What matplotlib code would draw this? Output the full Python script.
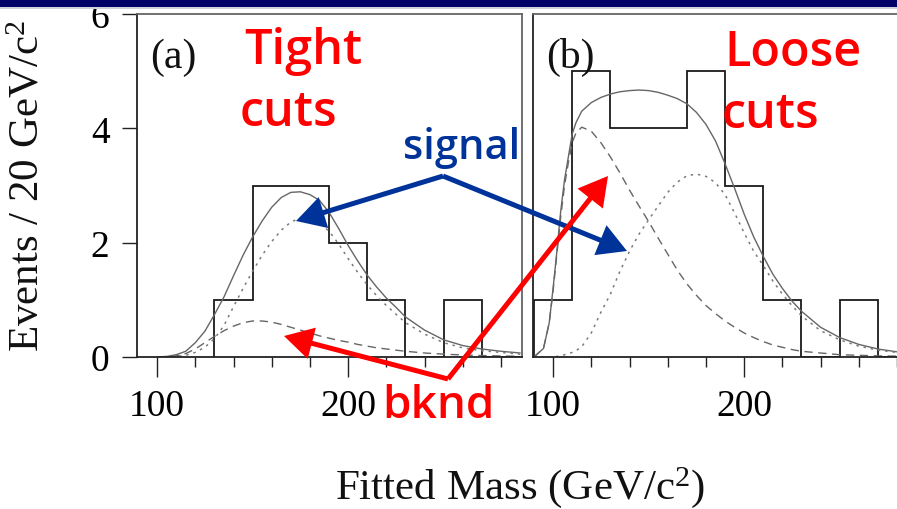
import matplotlib
matplotlib.use("Agg")
import matplotlib.pyplot as plt
from matplotlib.patches import Rectangle, FancyArrowPatch
from matplotlib.ticker import MultipleLocator, FixedLocator

plt.rcParams['mathtext.fontset'] = 'custom'
plt.rcParams['mathtext.rm'] = 'Liberation Serif'
plt.rcParams['mathtext.it'] = 'Liberation Serif:italic'

# ---------------- data ----------------
edges_a = [130, 150, 170, 190, 210, 230, 250, 270, 290]
counts_a = [1, 3, 3, 2, 1, 0, 1, 0]

edges_b = [90, 110, 130, 150, 170, 190, 210, 230, 250, 270, 290]
counts_b = [1, 5, 4, 4, 5, 3, 1, 0, 1, 0]

mass_a = [100, 105, 110, 115, 120, 125, 130, 135, 140, 145, 150, 155, 160, 165,
          170, 175, 180, 185, 190, 195, 200, 205, 210, 215, 220, 225, 230, 240,
          250, 260, 270, 280, 290]
total_a = [0.0, 0.01, 0.04, 0.1, 0.25, 0.45, 0.74, 1.05, 1.42, 1.78, 2.1, 2.38,
           2.62, 2.79, 2.88, 2.89, 2.84, 2.74, 2.53, 2.25, 1.95, 1.68, 1.43, 1.22,
           1.03, 0.87, 0.7, 0.47, 0.3, 0.2, 0.14, 0.1, 0.07]
bkg_a = [0.0, 0.005, 0.02, 0.06, 0.14, 0.25, 0.36, 0.46, 0.54, 0.6, 0.63, 0.63,
         0.61, 0.57, 0.52, 0.47, 0.42, 0.37, 0.33, 0.29, 0.26, 0.22, 0.19, 0.16,
         0.14, 0.12, 0.1, 0.07, 0.05, 0.035, 0.025, 0.018, 0.012]
sig_a = [0.0, 0.0, 0.01, 0.03, 0.08, 0.17, 0.32, 0.55, 0.88, 1.2, 1.5, 1.78,
         2.02, 2.22, 2.36, 2.43, 2.42, 2.35, 2.2, 1.98, 1.72, 1.48, 1.26, 1.07,
         0.9, 0.75, 0.6, 0.4, 0.25, 0.16, 0.11, 0.08, 0.05]

mass_b = [90, 95, 98, 100, 102, 104, 106, 108, 110, 112, 115, 120, 125, 130, 135,
          140, 145, 150, 155, 160, 165, 170, 175, 180, 185, 190, 195, 200, 205,
          210, 215, 220, 225, 230, 240, 250, 260, 270, 280, 290]
total_b = [0.0, 0.15, 0.6, 1.2, 1.85, 2.55, 3.1, 3.5, 3.9, 4.1, 4.3, 4.45, 4.54,
           4.6, 4.64, 4.66, 4.67, 4.66, 4.63, 4.58, 4.52, 4.43, 4.28, 4.07, 3.78,
           3.38, 2.95, 2.5, 2.1, 1.76, 1.45, 1.2, 0.98, 0.8, 0.52, 0.34, 0.22,
           0.14, 0.09, 0.06]
bkg_b = [0.0, 0.15, 0.6, 1.15, 1.8, 2.45, 3.0, 3.4, 3.75, 3.92, 4.02, 3.95, 3.75,
         3.5, 3.22, 2.92, 2.64, 2.37, 2.08, 1.8, 1.52, 1.28, 1.08, 0.9, 0.76,
         0.63, 0.52, 0.42, 0.34, 0.27, 0.21, 0.17, 0.13, 0.1, 0.07, 0.04, 0.03,
         0.02, 0.015, 0.01]
sig_b = [0.0, 0.0, 0.0, 0.0, 0.01, 0.02, 0.04, 0.06, 0.08, 0.11, 0.18, 0.42, 0.78,
         1.1, 1.5, 1.85, 2.15, 2.4, 2.64, 2.88, 3.06, 3.17, 3.2, 3.16, 3.05, 2.84,
         2.52, 2.17, 1.85, 1.6, 1.33, 1.1, 0.9, 0.72, 0.46, 0.3, 0.19, 0.12,
         0.08, 0.05]

y_ticks = [0, 2, 4, 6]
x_major = [100, 200]

# ---------------- figure ----------------
W, H = 897, 510
fig = plt.figure(figsize=(W / 100, H / 100), dpi=100)
fig.patch.set_facecolor('white')

def fx(px):
    return px / W

def fy(py):
    return 1 - py / H

xlo, xhi = 89.5, 291.0
scale = 1.911  # px per GeV
ax_w = (xhi - xlo) * scale

ax_a = fig.add_axes([fx(137), fy(358), ax_w / W, (358 - 15) / H])
ax_b = fig.add_axes([fx(533), fy(358), ax_w / W, (358 - 15) / H])

serif = 'Liberation Serif'
hist_col = '#1a1a1a'
curve_col = '#666666'

for ax, edges, counts, m, tot, bk, sg in [
        (ax_a, edges_a, counts_a, mass_a, total_a, bkg_a, sig_a),
        (ax_b, edges_b, counts_b, mass_b, total_b, bkg_b, sig_b)]:
    ax.stairs(counts, edges, baseline=0, color=hist_col, lw=1.3)
    ax.plot(m, tot, color=curve_col, lw=1.0, solid_capstyle='round')
    ax.plot(m, bk, color=curve_col, lw=1.0, dashes=(6, 4))
    ax.plot(m, sg, color='#7a7a7a', lw=1.1, dashes=(1.6, 3.2))
    ax.set_xlim(xlo, xhi)
    ax.set_ylim(0, 6)
    ax.xaxis.set_major_locator(FixedLocator(x_major))
    ax.xaxis.set_minor_locator(MultipleLocator(20))
    ax.tick_params(axis='x', which='major', direction='out', length=14.4,
                   width=1.0, color='#222222', pad=8, labelsize=27)
    ax.tick_params(axis='x', which='minor', direction='out', length=7.2,
                   width=1.0, color='#222222')
    for lab in ax.get_xticklabels():
        lab.set_fontfamily(serif)
    for sp in ['left', 'bottom']:
        ax.spines[sp].set_color('#222222')
        ax.spines[sp].set_linewidth(1.3)
    for sp in ['top', 'right']:
        ax.spines[sp].set_color('#666666')
        ax.spines[sp].set_linewidth(1.3)
    ax.set_facecolor('none')

ax_a.yaxis.set_major_locator(FixedLocator(y_ticks))
ax_a.tick_params(axis='y', direction='out', length=10.8, width=1.0,
                 color='#222222', pad=9, labelsize=27)
for lab in ax_a.get_yticklabels():
    lab.set_fontfamily(serif)
ax_b.yaxis.set_major_locator(FixedLocator(y_ticks))
ax_b.tick_params(axis='y', length=0, labelleft=False)

ax_a.text(fx(150) - fx(137), 0, '', transform=ax_a.transAxes)
fig.text(fx(150), fy(68), '(a)', fontsize=30, family=serif,
         ha='left', va='baseline', color='#111111')
fig.text(fx(546), fy(68), '(b)', fontsize=30, family=serif,
         ha='left', va='baseline', color='#111111')

# axis labels
fig.text(fx(28), fy(186), 'Events / 20 GeV/c$^{2}$', rotation=90,
         ha='center', va='center', fontsize=31, family=serif, color='#111111')
fig.text(fx(520), fy(499), 'Fitted Mass (GeV/c$^{2}$)', ha='center',
         va='baseline', fontsize=31, family=serif, color='#111111')

# banner
fig.patches.append(Rectangle((0, fy(8)), 1, 8 / H, transform=fig.transFigure,
                             facecolor='#000066', edgecolor='none', zorder=10))
fig.patches.append(Rectangle((0, fy(10)), 1, 2 / H, transform=fig.transFigure,
                             facecolor='#d0d0d8', edgecolor='none', zorder=10))

# annotations
red = '#ff0000'
blue = '#003399'
sans = 'Open Sans'
wt = 'semibold'
fig.text(fx(244), fy(64), 'Tight', color=red, fontsize=35, family=sans,
         weight=wt, va='baseline', ha='left')
fig.text(fx(240), fy(126), 'cuts', color=red, fontsize=35, family=sans,
         weight=wt, va='baseline', ha='left')
fig.text(fx(724), fy(66), 'Loose', color=red, fontsize=35, family=sans,
         weight=wt, va='baseline', ha='left')
fig.text(fx(722), fy(128), 'cuts', color=red, fontsize=35, family=sans,
         weight=wt, va='baseline', ha='left')
fig.text(fx(403), fy(159), 'signal', color=blue, fontsize=30, family=sans,
         weight=wt, va='baseline', ha='left')
fig.text(fx(382), fy(418), 'bknd', color=red, fontsize=33, family=sans,
         weight=wt, va='baseline', ha='left')

def arrow(p0, p1, col):
    a = FancyArrowPatch((fx(p0[0]), fy(p0[1])), (fx(p1[0]), fy(p1[1])),
                        transform=fig.transFigure, color=col, lw=3.6,
                        arrowstyle='-|>,head_length=8,head_width=4.5',
                        mutation_scale=1.9, shrinkA=0, shrinkB=0,
                        joinstyle='miter', capstyle='butt', zorder=20)
    fig.patches.append(a)

arrow((443, 177), (296, 222), blue)
arrow((443, 177), (627, 252), blue)
arrow((448, 380), (284, 337), red)
arrow((448, 380), (608, 177), red)

fig.savefig('out.png', dpi=100)
